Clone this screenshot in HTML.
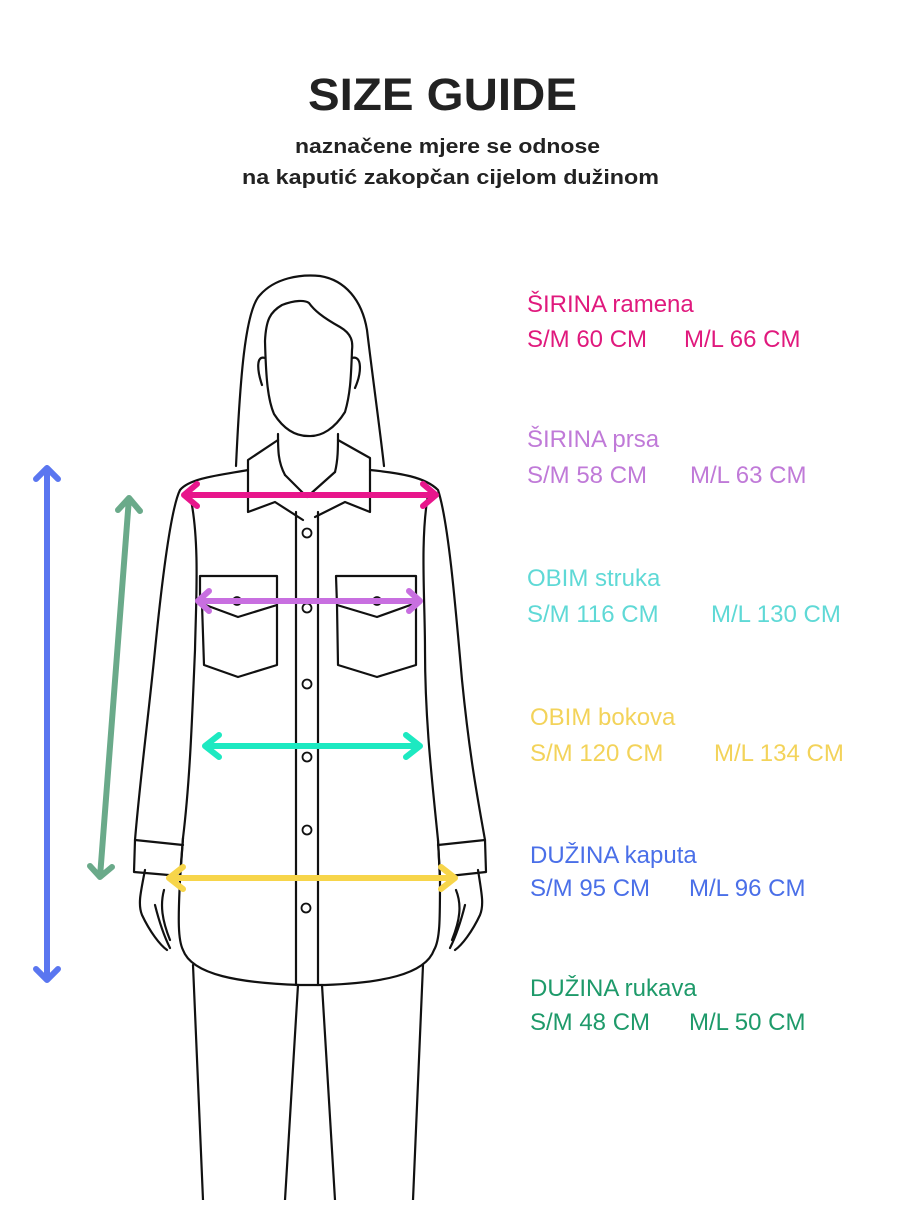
<!DOCTYPE html>
<html><head><meta charset="utf-8"><style>
body{margin:0;background:#fff;width:900px;height:1200px;overflow:hidden;font-family:"Liberation Sans",sans-serif}
</style></head><body>
<svg width="900" height="1200" viewBox="0 0 900 1200" xmlns="http://www.w3.org/2000/svg">
<text x="308" y="110" textLength="269" lengthAdjust="spacingAndGlyphs" font-family="Liberation Sans" font-weight="bold" font-size="45" fill="#222">SIZE GUIDE</text>
<text x="295" y="153" textLength="305" lengthAdjust="spacingAndGlyphs" font-family="Liberation Sans" font-weight="bold" font-size="20" fill="#222">naznačene mjere se odnose</text>
<text x="242" y="184" textLength="417" lengthAdjust="spacingAndGlyphs" font-family="Liberation Sans" font-weight="bold" font-size="20" fill="#222">na kaputić zakopčan cijelom dužinom</text>
<g font-family="Liberation Sans" font-size="24">
<text x="527" y="312" fill="#e0197d">ŠIRINA ramena</text>
<text x="527" y="347" fill="#e0197d">S/M 60 CM<tspan x="684">M/L 66 CM</tspan></text>
<text x="527" y="447" fill="#c07ad8">ŠIRINA prsa</text>
<text x="527" y="483" fill="#c07ad8">S/M 58 CM<tspan x="690">M/L 63 CM</tspan></text>
<text x="527" y="586" fill="#5fd9d6">OBIM struka</text>
<text x="527" y="622" fill="#5fd9d6">S/M 116 CM<tspan x="711">M/L 130 CM</tspan></text>
<text x="530" y="725" fill="#f3d35a">OBIM bokova</text>
<text x="530" y="761" fill="#f3d35a">S/M 120 CM<tspan x="714">M/L 134 CM</tspan></text>
<text x="530" y="863" fill="#4a6fe8">DUŽINA kaputa</text>
<text x="530" y="896" fill="#4a6fe8">S/M 95 CM<tspan x="689">M/L 96 CM</tspan></text>
<text x="530" y="996" fill="#1e9a6a">DUŽINA rukava</text>
<text x="530" y="1030" fill="#1e9a6a">S/M 48 CM<tspan x="689">M/L 50 CM</tspan></text>
</g>
<g fill="none" stroke="#111" stroke-width="2.2" stroke-linejoin="round" stroke-linecap="round">
<path d="M236,466 C240,380 245,310 260,295 C275,278 300,274 320,276 C345,280 362,300 367,330 C373,380 380,430 384,466"/>
<path d="M265,341 C266,320 270,312 282,305 C295,300 305,300 309,303 C314,310 322,317 340,327 C352,334 353,342 352,350 C351,380 350,395 345,412 C335,428 322,437 308,436 C294,436 283,428 274,414 C268,400 266,380 265,341 Z"/>
<path d="M265,358 C256,355 257,370 262,385 M352,358 C362,355 362,372 355,388"/>
<path d="M278,434 C278,450 278,462 285,475 M338,434 C338,448 338,460 335,472"/>
<path d="M278,440 L248,460 L248,512 L275,502 L303,520 M338,440 L370,458 L370,512 L345,502 L315,517 M285,475 L307,497 L335,472"/>
<path d="M248,470 C220,475 190,478 180,490 C170,510 160,600 155,650 C148,720 140,780 135,840 L134,872 L180,876 L183,838"/>
<path d="M370,470 C400,473 425,477 438,490 C448,520 455,600 462,680 C470,760 478,800 485,840 L486,872 L440,877 L438,840"/>
<path d="M135,840 L183,845 M485,840 L438,845"/>
<path d="M190,495 C200,540 196,600 195,650 C192,720 190,780 183,838 L180,880"/>
<path d="M428,495 C420,540 425,600 425,650 C425,720 432,780 438,840 L440,880"/>
<path d="M180,880 C178,920 178,940 183,950 C192,975 240,983 300,985 L325,985 C380,983 425,975 434,950 C440,940 440,920 440,880"/>
<path d="M296,512 L296,985 M318,512 L318,985"/>
<g stroke-width="1.8"><circle cx="307" cy="533" r="4.5"/><circle cx="307" cy="608" r="4.5"/><circle cx="307" cy="684" r="4.5"/><circle cx="307" cy="757" r="4.5"/><circle cx="307" cy="830" r="4.5"/><circle cx="306" cy="908" r="4.5"/><circle cx="237" cy="601" r="4"/><circle cx="377" cy="601" r="4"/></g>
<path d="M200,576 L277,576 L277,605 L238,617 L200,603 Z M202,604 L204,665 L238,677 L277,665 L277,605"/>
<path d="M336,576 L416,576 L416,603 L377,617 L337,605 Z M337,605 L338,665 L377,677 L416,665 L416,604"/>
<path d="M145,870 C140,895 138,905 142,915 C150,932 160,945 167,950 M155,905 C160,925 165,938 170,948 M164,890 C160,905 162,920 170,940"/>
<path d="M478,870 C482,895 484,905 480,915 C472,932 462,945 455,950 M465,905 C460,925 455,938 450,948 M456,890 C462,905 460,920 452,940"/>
<path d="M193,965 L203,1200 M298,985 L285,1200 M322,985 L335,1200 M423,965 L413,1200"/>
</g>
<g fill="none" stroke-width="6" stroke-linecap="round" stroke-linejoin="round">
<g stroke="#e8168c"><path d="M184,495 L436,495 M197,484 L184,495 L197,506 M423,484 L436,495 L423,506"/></g>
<g stroke="#c86fe0"><path d="M198,601 L420,601 M209,591 L198,601 L209,611 M409,591 L420,601 L409,611"/></g>
<g stroke="#1de9c1"><path d="M205,746 L420,746 M219,735 L205,746 L219,757 M406,735 L420,746 L406,757"/></g>
<g stroke="#f7d54a"><path d="M169,878 L455,878 M183,867 L169,878 L183,889 M441,867 L455,878 L441,889"/></g>
<g stroke="#5a76f0"><path d="M47,468 L47,980 M36,969 L47,980 L58,969 M36,479 L47,468 L58,479"/></g>
<g stroke="#6aaa8a"><path d="M129,498 L100,877 M90,866 L100,877 L112,867 M118,510 L129,498 L140,511"/></g>
</g>
</svg>
</body></html>
